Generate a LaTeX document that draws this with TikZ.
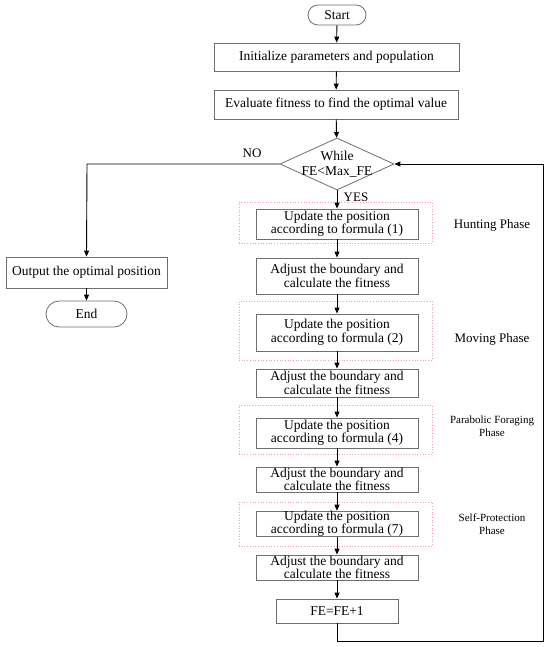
\documentclass[tikz,border=0pt]{standalone}
\usepackage{fontspec}
\setmainfont{Liberation Serif}
\usepackage{tikz}
\usetikzlibrary{arrows.meta,shapes.geometric}
\definecolor{borda}{HTML}{6E6E6E}
\definecolor{rosa}{HTML}{F4A0A8}

\begin{document}
\begin{tikzpicture}[x=1pt, y=-1pt, >={Triangle[length=6pt,width=5pt]},
  caixa/.style={draw=borda, line width=0.8pt, inner sep=0pt, align=center,
    font=\fontsize{13.5}{13.5}\selectfont},
  fase/.style={draw=rosa, dotted, line width=0.7pt, inner sep=0pt},
  rotulo/.style={align=center, font=\fontsize{11}{13}\selectfont}]
  \def\upd#1{Update the position\\according to formula (#1)}
  \def\adj{Adjust the boundary and\\calculate the fitness}
  \useasboundingbox (0,0) rectangle (550,647);
  % phases
  \node[fase, minimum width=193, minimum height=41] (ph1) at (335.5,222.5) {};
  \node[fase, minimum width=193, minimum height=59] (ph2) at (335.5,330.5) {};
  \node[fase, minimum width=193, minimum height=49] (ph3) at (335.5,429.5) {};
  \node[fase, minimum width=193, minimum height=44] (ph4) at (335.5,524) {};
  \node[rotulo, font=\fontsize{13}{13}\selectfont] (lh) at (492,225) {Hunting Phase};
  \node[rotulo, font=\fontsize{13}{13}\selectfont] (lm) at (492,339) {Moving Phase};
  \node[rotulo] (lp) at (492,426.5) {Parabolic Foraging\\Phase};
  \node[rotulo] (ls) at (492,524.5) {Self-Protection\\Phase};
  % main column
  \node[caixa, rounded corners=10pt, minimum width=58, minimum height=20] (start) at (337,15) {Start};
  \node[caixa, minimum width=245, minimum height=28] (init) at (336.5,57) {Initialize parameters and population};
  \node[caixa, minimum width=244, minimum height=29] (eval) at (336,104.5) {Evaluate fitness to find the optimal value};
  \node[caixa, diamond, minimum width=114, minimum height=52,
    label={[align=center, font=\fontsize{13.5}{15}\selectfont]center:While\\FE<Max\_FE}] (cond) at (337,164) {};
  \node[caixa, minimum width=162, minimum height=30] (up1) at (337,224) {\upd{1}};
  \node[caixa, minimum width=162, minimum height=36] (adj1) at (337,276) {\adj};
  \node[caixa, minimum width=162, minimum height=37] (up2) at (337,332.5) {\upd{2}};
  \node[caixa, minimum width=162, minimum height=28] (adj2) at (337,383) {\adj};
  \node[caixa, minimum width=162, minimum height=30] (up3) at (337,433) {\upd{4}};
  \node[caixa, minimum width=162, minimum height=25] (adj3) at (337,479.5) {\adj};
  \node[caixa, minimum width=162, minimum height=24] (up4) at (337,524) {\upd{7}};
  \node[caixa, minimum width=162, minimum height=25] (adj4) at (337,567.5) {\adj};
  \node[caixa, minimum width=122, minimum height=24] (fe) at (337,611) {FE=FE+1};
  % exit
  \node[caixa, minimum width=161, minimum height=31] (out) at (86.5,272.5) {Output the optimal position};
  \node[caixa, rounded corners=13pt, minimum width=81, minimum height=26] (end) at (86.5,314) {End};
  \node[font=\fontsize{13}{13}\selectfont] (no) at (252,153) {NO};
  \node[font=\fontsize{13}{13}\selectfont] (yes) at (356,197) {YES};
  \coordinate (c1) at (87,164);
  \coordinate (c2) at (337,641);
  \coordinate (c3) at (543,641);
  \coordinate (c4) at (543,164);
  % connectors
  \foreach \a/\b in {start/init, init/eval, eval/cond, cond/up1, up1/adj1, adj1/up2,
      up2/adj2, adj2/up3, up3/adj3, adj3/up4, up4/adj4, adj4/fe, out/end}
    \draw[->, line width=0.9pt] (\a) -- (\b);
  \draw[->, line width=0.9pt] (cond.west) -- (c1) -- (out.north);
  \draw[->, line width=0.9pt] (fe.south) -- (c2) -- (c3) -- (c4) -- (cond.east);
\end{tikzpicture}
\end{document}
